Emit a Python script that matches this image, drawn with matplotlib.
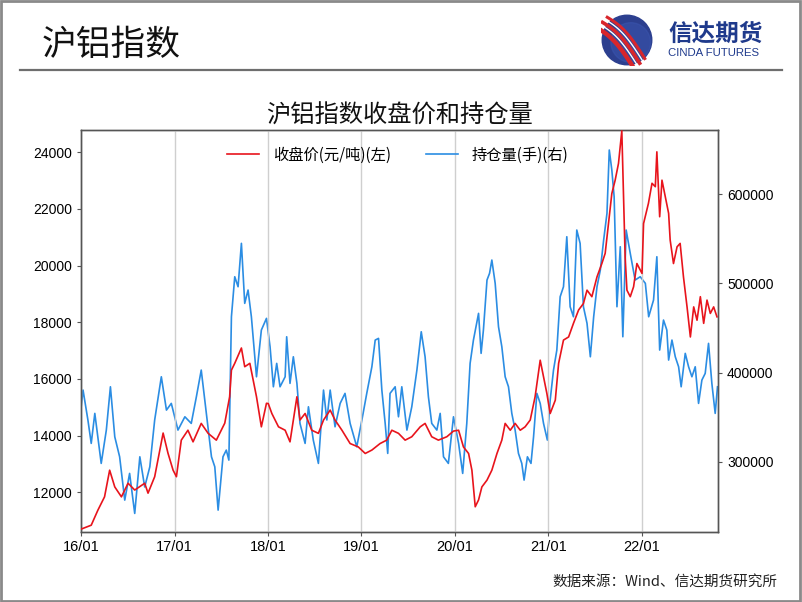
"""
SHFE aluminium index: close price and open interest
"""

#---------------------------------------------------------------------------------------------------
# Import Modules
#---------------------------------------------------------------------------------------------------

import numpy as np
import pandas as pd
import matplotlib
matplotlib.use('Agg')
import matplotlib.pyplot as plt
import matplotlib.dates as mdates
import matplotlib.ticker as mticker
from matplotlib.patches import Circle, Rectangle
from matplotlib.lines import Line2D


#---------------------------------------------------------------------------------------------------
# Input Data
#---------------------------------------------------------------------------------------------------

# Close price (yuan/ton), left axis
close_dates = ['2016-01-01', '2016-02-10', '2016-03-07', '2016-04-02', '2016-04-22', '2016-05-12',
               '2016-06-07', '2016-07-03', '2016-07-29', '2016-09-06', '2016-09-19', '2016-10-15',
               '2016-11-04', '2016-11-17', '2016-12-06', '2016-12-26', '2017-01-08', '2017-01-27',
               '2017-02-22', '2017-03-14', '2017-04-15', '2017-05-12', '2017-06-13', '2017-07-16',
               '2017-08-04', '2017-08-11', '2017-08-24', '2017-09-19', '2017-10-02', '2017-10-22',
               '2017-11-04', '2017-11-17', '2017-12-06', '2017-12-26', '2018-01-02', '2018-01-16',
               '2018-02-11', '2018-03-09', '2018-03-28', '2018-04-24', '2018-05-06', '2018-05-26',
               '2018-06-21', '2018-07-17', '2018-08-06', '2018-09-01', '2018-09-20', '2018-10-17',
               '2018-11-18', '2018-12-20', '2019-01-16', '2019-02-11', '2019-03-15', '2019-04-10',
               '2019-04-30', '2019-05-26', '2019-06-21', '2019-07-17', '2019-08-19', '2019-09-07',
               '2019-10-03', '2019-10-29', '2019-12-01', '2019-12-27', '2020-01-16', '2020-02-04',
               '2020-02-24', '2020-03-08', '2020-03-21', '2020-04-03', '2020-04-16', '2020-05-06',
               '2020-05-25', '2020-06-14', '2020-07-03', '2020-07-16', '2020-08-05', '2020-08-24',
               '2020-09-13', '2020-10-02', '2020-10-22', '2020-11-10', '2020-11-30', '2020-12-13',
               '2020-12-26', '2021-01-08', '2021-01-28', '2021-02-10', '2021-03-01', '2021-03-21',
               '2021-04-09', '2021-04-29', '2021-05-18', '2021-06-01', '2021-06-20', '2021-07-10',
               '2021-07-29', '2021-08-11', '2021-08-24', '2021-09-06', '2021-09-19', '2021-10-02',
               '2021-10-15', '2021-10-22', '2021-10-28', '2021-11-04', '2021-11-17', '2021-11-30',
               '2021-12-13', '2022-01-02', '2022-01-08', '2022-01-27', '2022-02-10', '2022-02-23',
               '2022-03-01', '2022-03-12', '2022-03-21', '2022-04-03', '2022-04-16', '2022-04-22',
               '2022-05-05', '2022-05-19', '2022-05-31', '2022-06-13', '2022-06-27', '2022-07-10',
               '2022-07-23', '2022-08-05', '2022-08-18', '2022-08-31', '2022-09-13', '2022-09-26',
               '2022-10-09', '2022-10-22']
close_price = [10700, 10840, 11370, 11840, 12780, 12190,
               11840, 12320, 12080, 12320, 11970, 12550,
               13490, 14090, 13380, 12780, 12550, 13840,
               14190, 13780, 14430, 14080, 13840, 14440,
               15370, 16310, 16550, 17090, 16430, 16550,
               15960, 15370, 14310, 15140, 15130, 14780,
               14310, 14190, 13780, 15370, 14550, 14780,
               14190, 14080, 14550, 14900, 14550, 14190,
               13720, 13600, 13370, 13490, 13720, 13840,
               14190, 14080, 13840, 13960, 14310, 14430,
               13960, 13840, 13960, 14160, 14190, 13600,
               13370, 12780, 11490, 11730, 12190, 12430,
               12780, 13370, 13840, 14430, 14190, 14430,
               14190, 14310, 14550, 15370, 16660, 16070,
               15490, 14780, 15250, 16550, 17370, 17480,
               17960, 18430, 18660, 19130, 18900, 19600,
               20070, 20430, 21480, 22540, 23010, 23600,
               24750, 22420, 20300, 19130, 18900, 19250,
               20070, 19720, 21480, 22190, 22900, 22780,
               24010, 21720, 23010, 22420, 21840, 20900,
               20070, 20660, 20780, 19600, 18540, 17480,
               18540, 18070, 18900, 17960, 18780, 18310,
               18540, 18190]

# Open interest (lots), right axis
oi_dates = ['2016-01-01', '2016-01-09', '2016-01-28', '2016-02-10', '2016-02-24', '2016-03-20',
            '2016-04-09', '2016-04-25', '2016-05-12', '2016-05-31', '2016-06-20', '2016-07-09',
            '2016-07-29', '2016-08-18', '2016-09-06', '2016-09-26', '2016-10-15', '2016-11-10',
            '2016-11-30', '2016-12-19', '2017-01-14', '2017-02-10', '2017-03-07', '2017-03-27',
            '2017-04-15', '2017-05-05', '2017-05-25', '2017-06-07', '2017-06-20', '2017-07-09',
            '2017-07-22', '2017-08-01', '2017-08-11', '2017-08-24', '2017-09-06', '2017-09-19',
            '2017-10-02', '2017-10-15', '2017-10-28', '2017-11-17', '2017-12-06', '2017-12-26',
            '2018-01-09', '2018-01-22', '2018-02-04', '2018-02-17', '2018-03-09', '2018-03-15',
            '2018-03-28', '2018-04-10', '2018-04-24', '2018-05-06', '2018-05-26', '2018-06-08',
            '2018-06-27', '2018-07-17', '2018-08-06', '2018-08-19', '2018-09-01', '2018-09-20',
            '2018-10-10', '2018-10-29', '2018-11-18', '2018-12-14', '2019-01-03', '2019-01-22',
            '2019-02-11', '2019-02-24', '2019-03-09', '2019-03-22', '2019-04-04', '2019-04-14',
            '2019-04-23', '2019-05-13', '2019-05-26', '2019-06-08', '2019-06-28', '2019-07-17',
            '2019-08-06', '2019-08-23', '2019-09-07', '2019-09-20', '2019-10-03', '2019-10-23',
            '2019-11-05', '2019-11-18', '2019-12-07', '2019-12-27', '2020-01-16', '2020-02-01',
            '2020-02-17', '2020-03-01', '2020-03-14', '2020-04-03', '2020-04-13', '2020-04-22',
            '2020-05-06', '2020-05-16', '2020-05-25', '2020-06-07', '2020-06-20', '2020-07-03',
            '2020-07-16', '2020-07-29', '2020-08-11', '2020-08-24', '2020-09-06', '2020-09-19',
            '2020-09-28', '2020-10-11', '2020-10-25', '2020-11-04', '2020-11-17', '2020-11-30',
            '2020-12-13', '2020-12-28', '2021-01-08', '2021-01-21', '2021-02-03', '2021-02-16',
            '2021-03-01', '2021-03-14', '2021-03-27', '2021-04-09', '2021-04-22', '2021-05-05',
            '2021-05-18', '2021-06-01', '2021-06-14', '2021-06-27', '2021-07-10', '2021-07-23',
            '2021-08-05', '2021-08-18', '2021-08-27', '2021-09-06', '2021-09-15', '2021-09-26',
            '2021-10-09', '2021-10-19', '2021-11-01', '2021-11-17', '2021-12-06', '2021-12-26',
            '2022-01-15', '2022-01-28', '2022-02-16', '2022-03-01', '2022-03-12', '2022-03-27',
            '2022-04-09', '2022-04-16', '2022-04-29', '2022-05-12', '2022-05-25', '2022-06-04',
            '2022-06-20', '2022-07-03', '2022-07-16', '2022-07-29', '2022-08-11', '2022-08-24',
            '2022-09-06', '2022-09-19', '2022-10-02', '2022-10-15', '2022-10-24']
open_interest = [360000, 380500, 347000, 320800, 354400, 298400,
                 335700, 384200, 328200, 305800, 257300, 287200,
                 242400, 305800, 272000, 294600, 347000, 395400,
                 358100, 365600, 335700, 350600, 343200, 373000,
                 402900, 354400, 305800, 294600, 246100, 305800,
                 313300, 302100, 462600, 507400, 496200, 544800,
                 477600, 492500, 462600, 395400, 447700, 460800,
                 429000, 384200, 410400, 384200, 395400, 440200,
                 388000, 417800, 388000, 343200, 320800, 361800,
                 324500, 298400, 380500, 347000, 380500, 339400,
                 365600, 376800, 343200, 317000, 347000, 376800,
                 406600, 436500, 438400, 380500, 343200, 309600,
                 376800, 384200, 350600, 384200, 335700, 361800,
                 402900, 445800, 417800, 373000, 343200, 335700,
                 354400, 305800, 298400, 350600, 320800, 287200,
                 343200, 410400, 436500, 466400, 421600, 447700,
                 503700, 511200, 526100, 500000, 451400, 429000,
                 395400, 384200, 354400, 335700, 309600, 298400,
                 279700, 305800, 298400, 328200, 376800, 365600,
                 343200, 324500, 369300, 402900, 425300, 485000,
                 496200, 552200, 473800, 462600, 559700, 544800,
                 473800, 455200, 417800, 462600, 496200, 514900,
                 548500, 578400, 649300, 626900, 597000, 473800,
                 541000, 440200, 559700, 533600, 503700, 507400,
                 500000, 462600, 481300, 529800, 425300, 458900,
                 447700, 414100, 436500, 417800, 406600, 384200,
                 421600, 406600, 395400, 406600, 365600, 391700,
                 399200, 432800, 388000, 354400, 384200]

left_ticks = [12000, 14000, 16000, 18000, 20000, 22000, 24000]
right_ticks = [300000, 400000, 500000, 600000]

labels = ['收盘价(元/吨)(左)', '持仓量(手)(右)']
title = '沪铝指数收盘价和持仓量'
header = '沪铝指数'
source = '数据来源：Wind、信达期货研究所'


#---------------------------------------------------------------------------------------------------
# Main Program
#---------------------------------------------------------------------------------------------------

plt.rcParams['font.family'] = ['Noto Sans CJK SC', 'DejaVu Sans']

red = '#e8141c'
blue = '#2b8de3'
W, H = 802, 602

fig = plt.figure(figsize=(W / 100, H / 100), dpi=100)
fig.patch.set_facecolor('white')

# Slide frame, header and rule
fig.add_artist(Rectangle((0.001, 0.001), 0.997, 0.997, transform=fig.transFigure, fill=False,
                         edgecolor='#8a8a8a', lw=2))
fig.text(42 / W, 1 - 45 / H, header, fontsize=25, fontweight='light', va='center', ha='left',
         color='#111111')
fig.add_artist(Line2D([20 / W, 782 / W], [1 - 70 / H, 1 - 70 / H], color='#6e6e6e', lw=1.6))

# Logo
lax = fig.add_axes([601 / W, 1 - 66 / H, 52 / W, 52 / H])
lax.set_xlim(-1.05, 1.05)
lax.set_ylim(-1.05, 1.05)
lax.set_aspect('equal')
lax.axis('off')
lax.add_patch(Circle((0, 0), 1.0, color='#2c3f8f'))
lax.add_patch(Circle((0.15, -0.1), 0.8, color='#3b56b0', alpha=0.5))
t = np.linspace(0, 1, 50)
for off, col, lw in [(-0.22, '#d8262c', 3.2), (-0.09, 'white', 1.0), (0.0, '#d8262c', 2.6),
                     (0.11, 'white', 1.0), (0.2, '#d8262c', 2.2)]:
    xs = -1.05 + 1.6 * t + off
    ys = 0.75 - 1.75 * t + 0.25 * np.sin(np.pi * t) + off
    lax.plot(xs, ys, color=col, lw=lw, solid_capstyle='butt')
fig.text(668 / W, 1 - 34 / H, '信达期货', fontsize=17, fontweight='bold', color='#1f3a8c',
         va='center', ha='left')
fig.text(668 / W, 1 - 53 / H, 'CINDA FUTURES', fontsize=8.2, color='#1f3a8c', va='center',
         ha='left', family=['Liberation Sans'])

# Chart
ax = fig.add_axes([81 / W, 1 - 532 / H, 637 / W, 402 / H])
ax2 = ax.twinx()

ax.plot(pd.to_datetime(close_dates), close_price, color=red, lw=1.2, zorder=3)
ax2.plot(pd.to_datetime(oi_dates), open_interest, color=blue, lw=1.2)
ax.set_zorder(ax2.get_zorder() + 1)
ax.patch.set_visible(False)

ax.set_xlim(pd.Timestamp('2016-01-01'), pd.Timestamp('2022-10-26'))
ax.set_ylim(10600, 24780)
ax2.set_ylim(221600, 671700)
ax.set_yticks(left_ticks)
ax2.set_yticks(right_ticks)
ax2.yaxis.set_major_formatter(mticker.StrMethodFormatter('{x:.0f}'))
ax.xaxis.set_major_locator(mdates.YearLocator())
ax.xaxis.set_major_formatter(mdates.DateFormatter('%y/%m'))
ax.grid(axis='x', color='#cfcfcf', lw=1.0)
ax.set_axisbelow(True)

for a in (ax, ax2):
    for s in a.spines.values():
        s.set_color('#555555')
        s.set_linewidth(1.0)
ax.tick_params(axis='y', labelsize=10, length=3, color='#555555', labelfontfamily='Liberation Sans')
ax2.tick_params(axis='y', labelsize=10, length=3, color='#555555', labelfontfamily='Liberation Sans')
ax.tick_params(axis='x', labelsize=10.5, length=3, color='#555555', pad=3,
               labelfontfamily='Liberation Sans')

handles = [Line2D([], [], color=red, lw=1.2), Line2D([], [], color=blue, lw=1.2)]
ax.legend(handles, labels, loc='center', bbox_to_anchor=(0.497, 0.938), ncol=2, frameon=False,
          fontsize=11, handlelength=2.1, handletextpad=0.9, columnspacing=2.3)

fig.text(399.5 / W, 1 - 116 / H, title, fontsize=17.5, ha='center', va='center', color='#111111')
fig.text(777 / W, 1 - 582 / H, source, fontsize=10.5, ha='right', va='center', color='#222222')

fig.savefig('out.png', dpi=100)
plt.close(fig)
